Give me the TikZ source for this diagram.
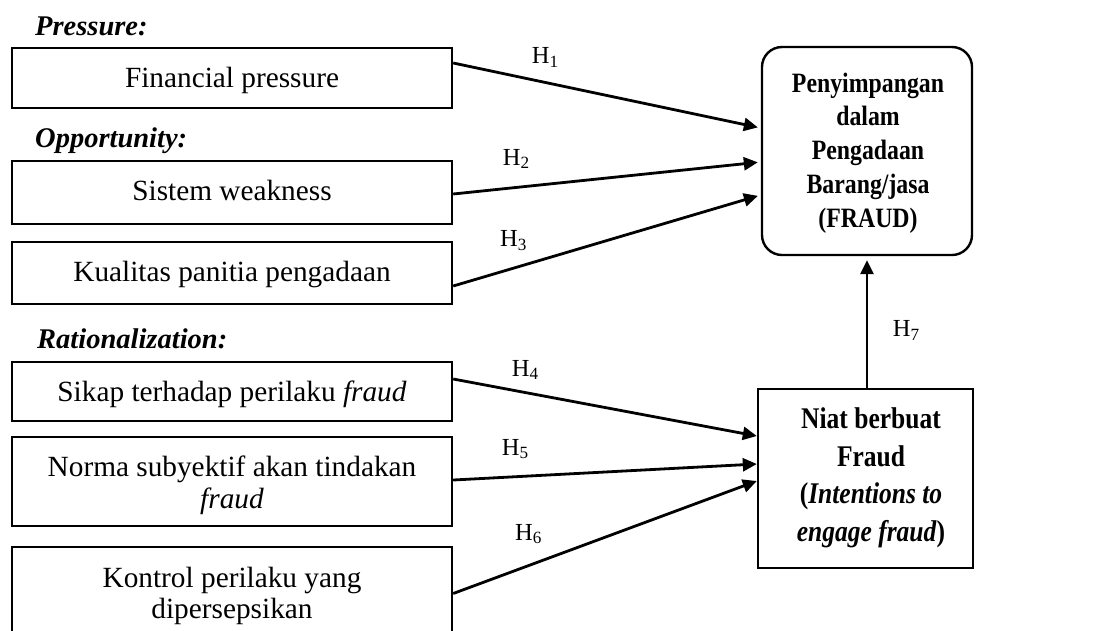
\documentclass[tikz,border=0pt]{standalone}
\usepackage{fontspec}
\setmainfont{Liberation Serif}
\newfontfamily\narrowserif[FakeStretch=0.85]{Liberation Serif}
\usetikzlibrary{arrows.meta}
\begin{document}
\begin{tikzpicture}[x=1pt,y=-1pt,
  box/.style={draw, line width=2.4pt, inner sep=0pt, minimum width=440pt},
  txt/.style={font=\fontsize{29.3}{32}\selectfont, inner sep=0pt, anchor=base, align=center},
  head/.style={font=\fontsize{28.5}{30}\selectfont\bfseries\itshape, inner sep=0pt, anchor=base west},
  hlab/.style={font=\fontsize{24.5}{26}\selectfont, inner sep=0pt, anchor=base west},
  conn/.style={line width=2.8pt, -{Triangle[length=14pt,width=13pt]}}]
\useasboundingbox (0,0) rectangle (1099,630);
% headings
\node[head] (hp) at (35,35) {Pressure:};
\node[head] (ho) at (35,147) {Opportunity:};
\node[head] (hr) at (37,348) {Rationalization:};
% left boxes
\node[box, minimum height=60pt] (b1) at (232,78) {};
\node[box, minimum height=63pt] (b2) at (232,192.5) {};
\node[box, minimum height=62pt] (b3) at (232,273) {};
\node[box, minimum height=59pt] (b4) at (232,391.5) {};
\node[box, minimum height=89pt] (b5) at (232,481.5) {};
\node[box, minimum height=93pt] (b6) at (232,593.5) {};
\node[txt] (t1) at (232,87) {Financial pressure};
\node[txt] (t2) at (232,200) {Sistem weakness};
\node[txt] (t3) at (232,281) {Kualitas panitia pengadaan};
\node[txt] (t4) at (232,401) {Sikap terhadap perilaku \textit{fraud}};
\node[txt] (t5) at (232,508) {Norma subyektif akan tindakan\\\textit{fraud}};
\node[txt, font=\fontsize{29.3}{31}\selectfont] (t6) at (232,618) {Kontrol perilaku yang\\dipersepsikan};
% right boxes
\node[draw, line width=2.4pt, rounded corners=20pt, minimum width=210pt, minimum height=208pt, inner sep=0pt] (top) at (867,151) {};
\node[inner sep=0pt, anchor=base, align=center, font=\fontsize{28}{33.7}\selectfont\narrowserif\bfseries] (toptxt) at (868,227) {Penyimpangan\\dalam\\Pengadaan\\Barang/jasa\\(FRAUD)};
\node[draw, line width=2.4pt, minimum width=215pt, minimum height=179pt, inner sep=0pt] (niat) at (865.5,478.5) {};
\node[inner sep=0pt, anchor=base, align=center, font=\fontsize{30}{37.5}\selectfont\narrowserif\bfseries] (niattxt) at (871,541) {Niat berbuat\\Fraud\\(\textit{Intentions to}\\\textit{engage fraud})};
% connectors
\draw[conn, shorten >=3pt] ([yshift=15pt]b1.east) -- ([yshift=23pt]top.west);
\draw[conn, shorten >=3pt] ([yshift=-1.5pt]b2.east) -- ([yshift=-11pt]top.west);
\draw[conn, shorten >=3pt] ([yshift=-13pt]b3.east) -- ([yshift=-44pt]top.west);
\draw[conn] ([yshift=12.5pt]b4.east) -- ([yshift=42.5pt]niat.west);
\draw[conn] ([yshift=1.5pt]b5.east) -- ([yshift=14.5pt]niat.west);
\draw[conn] (b6.east) -- ([yshift=-2.5pt]niat.west);
\draw[conn, shorten >=4pt] (niat.north -| top.south) -- (top.south);
% labels
\node[hlab] (l1) at (531.7,63.3) {H\textsubscript{1}};
\node[hlab] (l2) at (502.7,165) {H\textsubscript{2}};
\node[hlab] (l3) at (500,246.7) {H\textsubscript{3}};
\node[hlab] (l4) at (511.7,376) {H\textsubscript{4}};
\node[hlab] (l5) at (501.7,455) {H\textsubscript{5}};
\node[hlab] (l6) at (515,540) {H\textsubscript{6}};
\node[hlab] (l7) at (892.7,336.7) {H\textsubscript{7}};
\end{tikzpicture}
\end{document}
